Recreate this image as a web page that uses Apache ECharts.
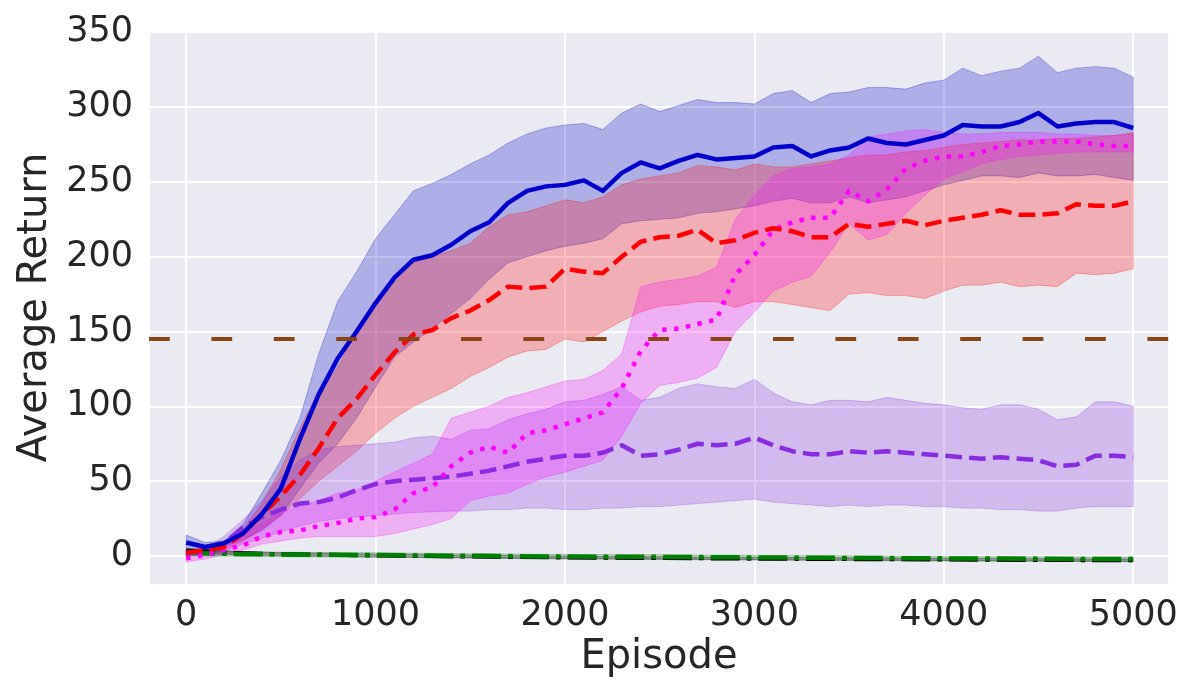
<!DOCTYPE html>
<html>
<head>
<meta charset="utf-8">
<script src="https://cdn.jsdelivr.net/npm/echarts@6/dist/echarts.min.js"></script>
<style>
html,body{margin:0;padding:0;background:#ffffff;}
#chart{width:1200px;height:700px;}
</style>
</head>
<body>
<div id="chart"></div>
<script>
// ---------- data ----------
const episodes = [0,100,200,300,400,500,600,700,800,900,1000,1100,1200,1300,1400,1500,1600,1700,1800,1900,2000,2100,2200,2300,2400,2500,2600,2700,2800,2900,3000,3100,3200,3300,3400,3500,3600,3700,3800,3900,4000,4100,4200,4300,4400,4500,4600,4700,4800,4900,5000];

const blueMean = [9,6,8.5,15,28,45,78,108,132,150,169,186,198,201,208,217,223,236,244,247,248,251,244,256,263,259,264,268,265,266,267,273,274,267,271,273,279,276,275,278,281,288,287,287,290,296,287,289,290,290,286];
const blueHi   = [14,9,10,21,42,64,92,135,170,190,212,228,244,249,255,262,268,276,282,286,288,289,285,296,302,297,301,305,303,303,302,309,311,303,309,310,313,313,312,316,318,326,321,324,326,334,323,326,327,326,320];
const blueLo   = [5,4,6,11,17,27,45,62,75,92,113,133,143,152,162,172,185,196,200,204,207,209,212,222,224,225,226,229,230,232,234,237,239,236,236,240,236,238,240,244,248,251,254,254,253,256,254,254,255,253,251];

const redMean = [2,4,6,15,28,40,54,72,92,105,121,136,148,151,159,164,171,180,179,180,192,190,189,200,210,213,214,218,209,211,216,219,217,213,213,222,220,222,224,221,224,226,228,231,228,228,229,235,234,234,237];
const redHi   = [4,5,8,18,35,58,85,110,126,150,168,183,196,200,204,209,220,228,230,234,238,236,240,248,252,254,256,261,260,258,262,260,260,262,264,266,268,268,270,271,273,275,276,277,278,278,279,279,280,281,283];
const redLo   = [0.5,2,4,10,18,27,38,50,60,70,82,92,100,106,112,120,126,133,137,138,145,143,150,157,163,167,168,170,170,166,170,170,168,166,164,175,176,174,174,172,177,181,181,183,180,181,180,189,188,189,192];

const magMean = [-1.5,0.7,4,7,13,16,17,20,22,25,26,31,42,46,60,69,73,69,82,84,88,92,96,112,137,151,152,155,158,188,201,218,223,226,226,244,237,245,259,264,267,267,270,274,275,277,277,277,275,274,274];
const magHi   = [2,4,8.5,15,22,29,33,37,42,44,50,56,62,68,92,96,100,106,109,113,117,118,124,135,180,183,185,187,193,225,241,254,259,260,262,268,280,282,284,285,283,282,282,283,283,283,282,282,281,281,282];
const magLo   = [-4,-2,1,4,8,10,12,13,13,13,13,15,18,21,25,37,40,42,48,53,56,60,64,80,102,114,116,119,126,150,163,177,183,187,203,222,211,215,229,241,252,257,262,265,267,268,269,270,270,270,270];

const purMean = [2,3,8.5,19,26,31,35,36,39,44,48,50,51,52,53,55,57,60,63,65,67,67,69,74,67,68,71,75,74,75,79,74,70,68,68,70,69,70,69,68,67,66,65,66,65,64,60,61,67,67,66];
const purHi   = [3.5,5,13,24,37,53,64,71,73,74,75,76,79,80,78,84,85,91,95,98,103,104,108,113,104,106,112,115,113,112,118,109,103,101,104,104,103,106,104,102,101,99,98,101,101,98,91,93,103,103,100];
const purLo   = [0,1,3,8,12,16,20,23,25,26,27,28,29,29.5,30,30,31,31,32,32,31,31,32,32,33,33,34,35,36,37,38,36,35,34,33,34,33,34,34,33,33,32,32,31,31,30,30,32,33,33,33];

const flatEpisodes = [0,250,500,1000,1500,2000,2500,3000,3500,4000,4500,5000];
const greenMean = [2,1.4,1,0.6,0.1,-0.4,-0.6,-1,-1.3,-1.6,-1.9,-2.1];
const greenHi   = [4,3,2.5,2.1,1.5,1,0.8,0.4,0.1,-0.2,-0.5,-0.7];
const greenLo   = [0,-0.2,-0.5,-0.9,-1.3,-1.8,-2,-2.4,-2.7,-3,-3.3,-3.5];
const blackMean = [3.5,2,1.2,0.3,-0.4,-1,-1.4,-1.8,-2.1,-2.4,-2.7,-2.9];
const blackHi   = [5,3.2,2.2,1.2,0.5,-0.1,-0.5,-0.9,-1.2,-1.5,-1.8,-2];
const blackLo   = [2,0.8,0.2,-0.6,-1.3,-1.9,-2.3,-2.7,-3,-3.3,-3.6,-3.8];

const threshold = 145;

const xTicks = [0,1000,2000,3000,4000,5000];
const yTicks = [0,50,100,150,200,250,300,350];

// ---------- chart ----------
const FONT = 'DejaVu Sans';
const TXT = '#262626';

function bandSeries(id, xs, lo, hi, rgb) {
  const fill = 'rgba(' + rgb + ',0.25)';
  const edge = 'rgba(' + rgb + ',0.28)';
  return {
    name: id + '_band', type: 'custom', silent: true, z: 1, clip: true,
    data: xs.map((x, i) => [x, lo[i], hi[i]]),
    encode: { x: 0, y: [1, 2] },
    renderItem: function (params, api) {
      if (params.dataIndex !== 0) return null;
      const up = xs.map((x, i) => api.coord([x, hi[i]]));
      const dn = xs.map((x, i) => api.coord([x, lo[i]]));
      const poly = up.concat(dn.slice().reverse());
      return {
        type: 'polygon', shape: { points: poly },
        style: { fill: fill, stroke: edge, lineWidth: 1 }
      };
    }
  };
}

function meanSeries(id, xs, ys, color, width, dash) {
  return { name: id, type: 'line', data: xs.map((x, i) => [x, ys[i]]),
    symbol: 'none', silent: true, z: 3,
    lineStyle: { color: color, width: width, type: dash, cap: 'butt', join: 'round' } };
}

const lw = 4.5;
const dashed = [3.7 * lw, 1.6 * lw];
const dotted = [1 * lw, 1.65 * lw];
const dashdot = [6.4 * 4.5, 1.6 * 4.5, 1 * 4.5, 1.6 * 4.5];

const series = [
  bandSeries('blue', episodes, blueLo, blueHi, '0,0,205'),
  bandSeries('red', episodes, redLo, redHi, '255,0,0'),
  bandSeries('purple', episodes, purLo, purHi, '138,43,226'),
  bandSeries('magenta', episodes, magLo, magHi, '255,0,255'),
  bandSeries('green', flatEpisodes, greenLo, greenHi, '0,128,0'),
  bandSeries('black', flatEpisodes, blackLo, blackHi, '0,0,0'),
  {
    name: 'threshold', type: 'line', data: [], silent: true, z: 2,
    markLine: {
      silent: true, symbol: ['none', 'none'], label: { show: false },
      lineStyle: { color: '#8B4513', width: 4, type: [20.8, 41.6], cap: 'butt' },
      emphasis: { disabled: true },
      data: [{ yAxis: threshold }]
    }
  },
  meanSeries('black', flatEpisodes, blackMean, '#000000', 4, dashdot),
  meanSeries('green', flatEpisodes, greenMean, '#008000', 4.5, dashdot),
  meanSeries('purple', episodes, purMean, '#8A2BE2', lw, dashed),
  meanSeries('magenta', episodes, magMean, '#FF00FF', lw, dotted),
  meanSeries('red', episodes, redMean, '#FF0000', lw, dashed),
  meanSeries('blue', episodes, blueMean, '#0000CD', lw, 'solid')
];

const chart = echarts.init(document.getElementById('chart'), null, { renderer: 'canvas' });
chart.setOption({
  animation: false,
  backgroundColor: '#ffffff',
  textStyle: { fontFamily: FONT, color: TXT },
  grid: { left: 149, right: 31, top: 30, bottom: 115, show: true,
          backgroundColor: '#EAEAF2', borderWidth: 0, containLabel: false },
  xAxis: {
    type: 'value', min: -196, max: 5189,
    minInterval: xTicks[1] - xTicks[0], maxInterval: xTicks[1] - xTicks[0], splitNumber: 5,
    axisLine: { show: false }, axisTick: { show: false },
    splitLine: { show: true, lineStyle: { color: '#ffffff', width: 1.8 } },
    axisLabel: { show: true, showMinLabel: false, showMaxLabel: false,
                 fontSize: 35, color: TXT, fontFamily: FONT, margin: 13,
                 formatter: v => xTicks.indexOf(v) >= 0 ? String(v) : '' },
    name: 'Episode', nameLocation: 'middle', nameGap: 52,
    nameTextStyle: { fontSize: 40, color: TXT, fontFamily: FONT }
  },
  yAxis: {
    type: 'value', min: -19.4, max: 351.5,
    minInterval: yTicks[1] - yTicks[0], maxInterval: yTicks[1] - yTicks[0], splitNumber: 7,
    axisLine: { show: false }, axisTick: { show: false },
    splitLine: { show: true, lineStyle: { color: '#ffffff', width: 1.8 } },
    axisLabel: { show: true, showMinLabel: false, showMaxLabel: false,
                 fontSize: 35, color: TXT, fontFamily: FONT, margin: 16,
                 formatter: v => yTicks.indexOf(v) >= 0 ? String(v) : '' },
    name: 'Average Return', nameLocation: 'middle', nameGap: 93,
    nameTextStyle: { fontSize: 40, color: TXT, fontFamily: FONT }
  },
  series: series
});
</script>
</body>
</html>
